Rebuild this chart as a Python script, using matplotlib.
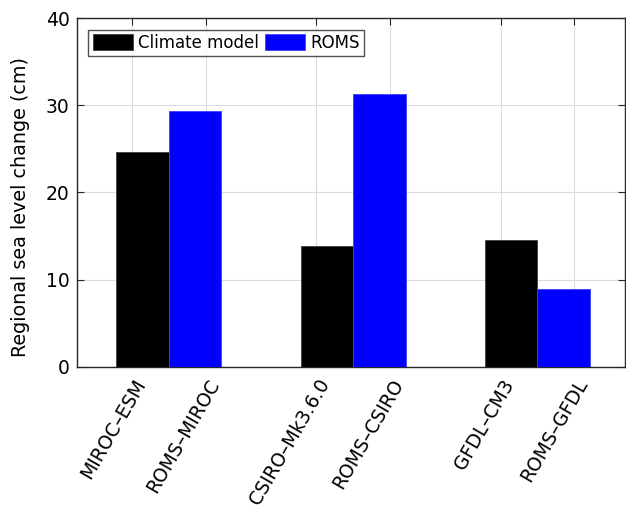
import matplotlib
matplotlib.use("Agg")
import matplotlib.pyplot as plt
import matplotlib.transforms as mtransforms
import numpy as np

# Regional sea level change per model pair (cm)
groups = ["MIROC", "CSIRO", "GFDL"]
climate_model = [24.6, 13.8, 14.5]
roms = [29.4, 31.3, 8.9]
tick_labels = ["MIROC\u2013ESM", "ROMS\u2013MIROC",
               "CSIRO\u2013Mk3.6.0", "ROMS\u2013CSIRO",
               "GFDL\u2013CM3", "ROMS\u2013GFDL"]
yticks = [0, 10, 20, 30, 40]

plt.rcParams["font.family"] = ["DejaVu Sans"]

fig = plt.figure(figsize=(6.26, 5.09), dpi=100)
ax = fig.add_axes([0.1225, 0.2796, 0.8759, 0.6845])

x = np.arange(1, len(groups) + 1)
w = 0.2855
ax.bar(x - w / 2, climate_model, width=w, color="black", edgecolor="#404040",
       linewidth=0.6, label="Climate model", zorder=3)
ax.bar(x + w / 2, roms, width=w, color="#0000ff", edgecolor="#4040ff",
       linewidth=0.6, label="ROMS", zorder=3)

ax.set_xlim(0.5, 3.475)
ax.set_ylim(0, 40)
ax.set_yticks(yticks)
ax.set_yticklabels([str(v) for v in yticks], fontsize=13.5)

# tick marks sit either side of each group centre; labels are rotated texts
tick_pos = np.ravel(np.column_stack([x - 0.2, x + 0.2]))
ax.set_xticks(tick_pos)
ax.set_xticklabels([])
label_tr = ax.get_xaxis_transform() + mtransforms.ScaledTranslation(
    9 / 100, -14 / 100, fig.dpi_scale_trans)
for xp, txt in zip(tick_pos, tick_labels):
    ax.text(xp, 0, txt, transform=label_tr, rotation=60,
            rotation_mode="anchor", ha="right", va="center", fontsize=13.5,
            clip_on=False)

axis_col = "#262626"
for s in ax.spines.values():
    s.set_color(axis_col)
    s.set_linewidth(1.0)
ax.tick_params(axis="both", direction="in", length=5, width=0.8,
               color=axis_col, top=True, right=True, labelcolor="black")
ax.tick_params(axis="y", pad=5)

ax.grid(True, color="#dcdcdc", linewidth=0.8, zorder=0)
ax.set_axisbelow(True)

ax.set_ylabel("Regional sea level change (cm)", fontsize=13.8)
ax.yaxis.set_label_coords(-0.086, 0.458)

leg = ax.legend(loc="upper left", ncol=2, fontsize=12.0, frameon=True,
                fancybox=False, handlelength=2.4, handleheight=1.1,
                handletextpad=0.3, columnspacing=0.4, borderpad=0.25,
                borderaxespad=0.7)
leg.get_frame().set_edgecolor("#262626")
leg.get_frame().set_linewidth(1.0)

fig.savefig("out.png", dpi=100, facecolor="white")
